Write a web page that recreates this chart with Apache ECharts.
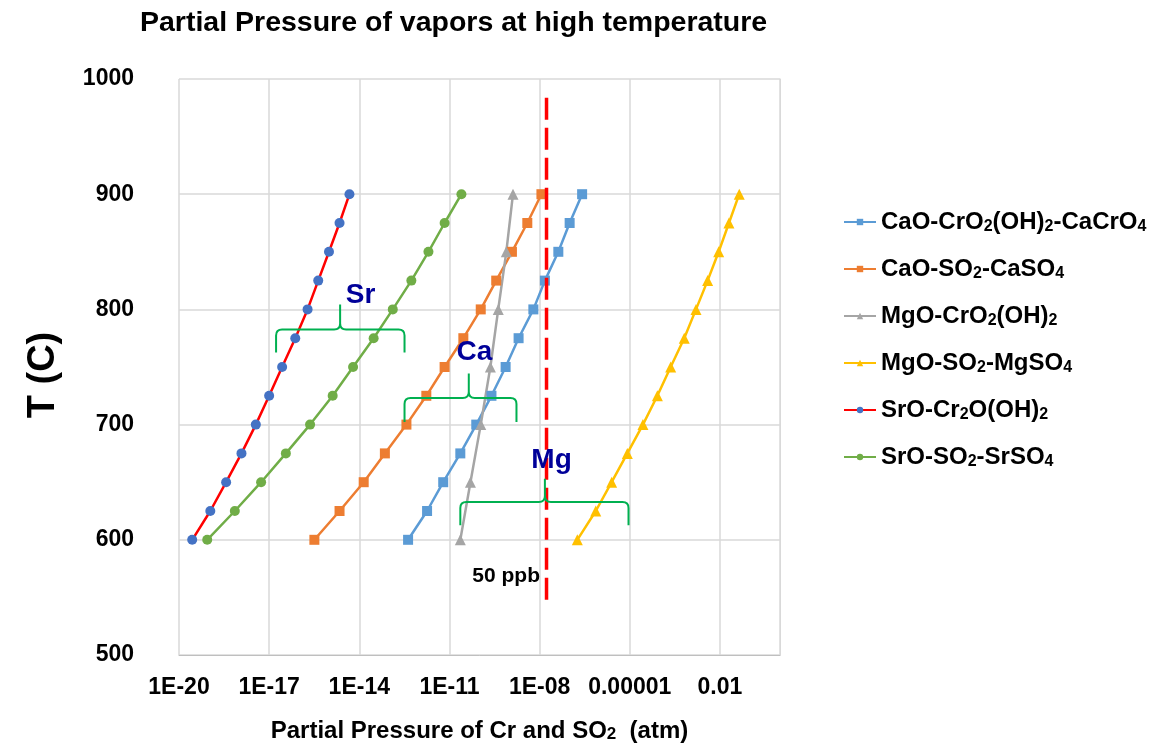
<!DOCTYPE html>
<html>
<head>
<meta charset="utf-8">
<script src="https://cdn.jsdelivr.net/npm/echarts@6/dist/echarts.min.js"></script>
<style>
  html, body { margin: 0; background: #fff; }
  #chart { width: 1156px; height: 748px; }
</style>
</head>
<body>
<div id="chart"></div>
<script>
// temperatures (C)
var temps = [600, 625, 650, 675, 700, 725, 750, 775, 800, 825, 850, 875, 900]
var tempsMgCr = [600, 650, 700, 750, 800, 850, 900]

// partial pressures (atm)
var caCrO4 = [4.2e-13, 1.8e-12, 6.2e-12, 2.3e-11, 7.8e-11, 2.5e-10, 7.4e-10, 2.0e-9, 6.2e-9, 1.5e-8, 4.2e-8, 1.0e-7, 2.6e-7]
var caSO4 = [3.2e-16, 2.2e-15, 1.4e-14, 7.1e-14, 3.7e-13, 1.7e-12, 6.9e-12, 2.9e-11, 1.1e-10, 3.6e-10, 1.2e-9, 3.9e-9, 1.15e-8]
var mgCrO2 = [2.3e-11, 5.0e-11, 1.1e-10, 2.3e-10, 4.2e-10, 7.8e-10, 1.3e-9]
var mgSO4 = [1.8e-7, 7.4e-7, 2.5e-6, 8.3e-6, 2.75e-5, 8.3e-5, 2.3e-4, 6.5e-4, 1.6e-3, 3.9e-3, 9.1e-3, 2.0e-2, 4.4e-2]
var srCr2O = [2.75e-20, 1.1e-19, 3.7e-19, 1.2e-18, 3.6e-18, 1.0e-17, 2.7e-17, 7.4e-17, 1.9e-16, 4.3e-16, 9.8e-16, 2.2e-15, 4.7e-15]
var srSO4 = [8.7e-20, 7.2e-19, 5.4e-18, 3.6e-17, 2.3e-16, 1.3e-15, 6.2e-15, 3.0e-14, 1.3e-13, 5.4e-13, 2.0e-12, 6.9e-12, 2.5e-11]

// 50 ppb reference line
var ppbP = 1.7e-8
var ppbT = [548, 984]
var ppbLabelT = 568

// x axis ticks (log10 of atm) and their labels
var xTickExp = [-20, -17, -14, -11, -8, -5, -2]
var xTickLabels = ['1E-20', '1E-17', '1E-14', '1E-11', '1E-08', '0.00001', '0.01']

// brace annotations: [left, middle, right] pressures, [line, foot, tip] temperatures
var braceNames = ['Sr', 'Ca', 'Mg']
var braceP = [[1.7e-17, 2.3e-15, 3.2e-13], [3.2e-13, 4.4e-11, 1.7e-9], [2.3e-11, 1.5e-8, 9.1e-6]]
var braceT = [[782.5, 762.6, 804.2], [723, 702.2, 744.4], [632.8, 612.7, 653.1]]
var braceLabelP = [1.1e-14, 6.8e-11, 2.5e-8]
var braceLabelT = [812, 763, 669]

var SANS = "'Liberation Sans', Arial, sans-serif"

function pts(ps, ts) {
  return ps.map(function (p, i) { return [Math.log10(p), ts[i]] })
}

function lineSeries(name, ps, ts, color, symbol, size, markColor) {
  return {
    name: name,
    type: 'line',
    data: pts(ps, ts),
    symbol: symbol,
    symbolSize: size,
    lineStyle: { color: color, width: 2.5 },
    itemStyle: { color: markColor || color },
    z: 3
  }
}

var chart = echarts.init(document.getElementById('chart'))

var option = {
  animation: false,
  title: {
    text: 'Partial Pressure of vapors at high temperature',
    left: 140,
    top: 9,
    padding: 0,
    textStyle: { fontFamily: SANS, fontWeight: 'bold', fontSize: 28.5, color: '#000' }
  },
  grid: { left: 179, right: 376, top: 79, bottom: 92 },
  legend: {
    orient: 'vertical',
    left: 838,
    top: 204,
    itemWidth: 32,
    itemHeight: 8,
    itemGap: 21,
    data: ['CaO-CrO2(OH)2-CaCrO4', 'CaO-SO2-CaSO4', 'MgO-CrO2(OH)2', 'MgO-SO2-MgSO4', 'SrO-Cr2O(OH)2', 'SrO-SO2-SrSO4'],
    formatter: function (name) { return name.replace(/(\d)/g, '{s|$1}') },
    textStyle: {
      fontFamily: SANS, fontWeight: 'bold', fontSize: 24, color: '#000', lineHeight: 26,
      rich: { s: { fontSize: 16, fontWeight: 'bold', fontFamily: SANS, lineHeight: 10, verticalAlign: 'bottom' } }
    }
  },
  xAxis: {
    type: 'value',
    min: -20,
    max: 0,
    interval: 3,
    name: 'Partial Pressure of Cr and SO{s|2}  (atm)',
    nameLocation: 'middle',
    nameGap: 64,
    nameTextStyle: {
      fontFamily: SANS, fontWeight: 'bold', fontSize: 24, color: '#000',
      rich: { s: { fontSize: 17, fontWeight: 'bold', fontFamily: SANS, lineHeight: 6, verticalAlign: 'bottom' } }
    },
    axisLine: { show: true, lineStyle: { color: '#bfbfbf', width: 1 } },
    axisTick: { show: false },
    splitLine: { show: true, lineStyle: { color: '#d9d9d9', width: 1.5 } },
    axisLabel: {
      margin: 21,
      fontFamily: SANS, fontWeight: 'bold', fontSize: 23, color: '#000',
      formatter: function (v) {
        var i = xTickExp.indexOf(Math.round(v))
        return i >= 0 ? xTickLabels[i] : ''
      }
    }
  },
  yAxis: {
    type: 'value',
    min: 500,
    max: 1000,
    interval: 100,
    name: 'T (C)',
    nameLocation: 'middle',
    nameRotate: 90,
    nameGap: 116,
    nameTextStyle: { fontFamily: SANS, fontWeight: 'bold', fontSize: 38, color: '#000', padding: [0, 16, 0, 0] },
    axisLine: { show: true, lineStyle: { color: '#d9d9d9' } },
    axisTick: { show: false },
    splitLine: { show: true, lineStyle: { color: '#d9d9d9', width: 1.5 } },
    axisLabel: {
      margin: 45, fontFamily: SANS, fontWeight: 'bold', fontSize: 23, color: '#000',
      formatter: function (v) { return String(v) }
    }
  },
  series: [
    lineSeries('CaO-CrO2(OH)2-CaCrO4', caCrO4, temps, '#5B9BD5', 'rect', 10),
    lineSeries('CaO-SO2-CaSO4', caSO4, temps, '#ED7D31', 'rect', 10),
    lineSeries('MgO-CrO2(OH)2', mgCrO2, tempsMgCr, '#A5A5A5', 'triangle', 11),
    lineSeries('MgO-SO2-MgSO4', mgSO4, temps, '#FFC000', 'triangle', 11),
    lineSeries('SrO-Cr2O(OH)2', srCr2O, temps, '#FF0000', 'circle', 10, '#4472C4'),
    lineSeries('SrO-SO2-SrSO4', srSO4, temps, '#70AD47', 'circle', 10),
    {
      name: '50 ppb',
      type: 'line',
      symbol: 'none',
      z: 4,
      lineStyle: { color: '#FF0000', width: 3.5, type: [22, 8] },
      data: ppbT.map(function (t) { return [Math.log10(ppbP), t] })
    },
    {
      name: '50 ppb label',
      type: 'scatter',
      z: 4,
      silent: true,
      symbolSize: 1,
      itemStyle: { color: 'rgba(0,0,0,0)', opacity: 1 },
      data: [[Math.log10(ppbP), ppbLabelT]],
      label: {
        show: true, position: 'left', distance: 6, formatter: '50 ppb', opacity: 1,
        fontFamily: SANS, fontWeight: 'bold', fontSize: 21, color: '#000'
      }
    },
    {
      name: 'braces',
      type: 'custom',
      z: 5,
      silent: true,
      encode: { x: [0, 1, 2, 6], y: [3, 4, 5, 7] },
      data: braceNames.map(function (n, i) {
        return [
          Math.log10(braceP[i][0]), Math.log10(braceP[i][1]), Math.log10(braceP[i][2]),
          braceT[i][0], braceT[i][1], braceT[i][2],
          Math.log10(braceLabelP[i]), braceLabelT[i]
        ]
      }),
      renderItem: function (params, api) {
        var i = params.dataIndex
        var xl = api.coord([api.value(0), api.value(3)])[0]
        var xm = api.coord([api.value(1), api.value(3)])[0]
        var xr = api.coord([api.value(2), api.value(3)])[0]
        var yh = api.coord([api.value(0), api.value(3)])[1]
        var yb = api.coord([api.value(0), api.value(4)])[1]
        var yt = api.coord([api.value(0), api.value(5)])[1]
        var lp = api.coord([api.value(6), api.value(7)])
        var r = 6
        var d = 'M' + xl + ',' + yb +
          'L' + xl + ',' + (yh + r) +
          'Q' + xl + ',' + yh + ',' + (xl + r) + ',' + yh +
          'L' + (xm - r) + ',' + yh +
          'Q' + xm + ',' + yh + ',' + xm + ',' + (yh - r) +
          'L' + xm + ',' + yt +
          'M' + xm + ',' + (yh - r) +
          'Q' + xm + ',' + yh + ',' + (xm + r) + ',' + yh +
          'L' + (xr - r) + ',' + yh +
          'Q' + xr + ',' + yh + ',' + xr + ',' + (yh + r) +
          'L' + xr + ',' + yb
        return {
          type: 'group',
          children: [
            { type: 'path', shape: { pathData: d }, style: { stroke: '#00B050', lineWidth: 2, fill: 'none' } },
            {
              type: 'text', x: lp[0], y: lp[1],
              style: {
                text: braceNames[i], fill: '#000099',
                font: 'bold 28px ' + SANS, align: 'center', verticalAlign: 'middle'
              }
            }
          ]
        }
      }
    }
  ]
}

chart.setOption(option)
</script>
</body>
</html>
